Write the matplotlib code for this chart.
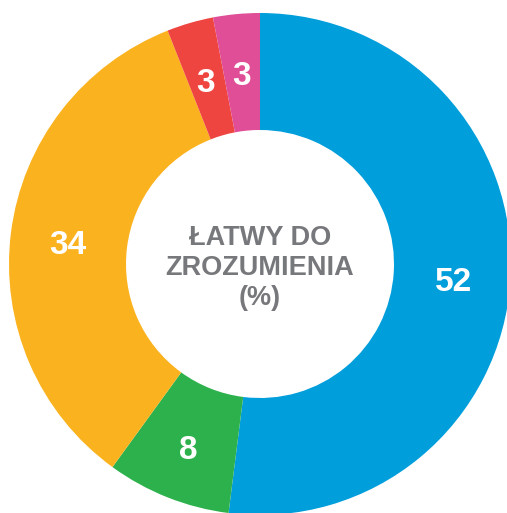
import matplotlib
matplotlib.use('Agg')
import matplotlib.pyplot as plt
import numpy as np

# Data for the donut (clockwise from the top)
labels = ['52', '8', '34', '3', '3']
values = [52, 8, 34, 3, 3]
colors = ['#009edb', '#2db14c', '#fbb21f', '#ef4540', '#df4e96']
center_text = 'ŁATWY DO\nZROZUMIENIA\n(%)'

fig = plt.figure(figsize=(5.07, 5.13), dpi=100)
ax = fig.add_axes([0, 0, 1, 1])

# Pixel-like coordinates: donut centre sits at (260, 264) from the top-left corner
ax.pie(values, colors=colors, startangle=90, counterclock=False,
       radius=251, wedgeprops=dict(width=117, edgecolor='none'),
       frame=True)
ax.set_xlim(-260, 247)
ax.set_ylim(-249, 264)
ax.set_aspect('equal')
ax.axis('off')

# Value labels in the middle of the ring
total = sum(values)
start = 90.0
for lab, v in zip(labels, values):
    mid = start - 360.0 * v / total / 2
    start -= 360.0 * v / total
    r = 194
    ax.text(r * np.cos(np.radians(mid)), r * np.sin(np.radians(mid)) - 6, lab,
            ha='center', va='center', color='white', fontsize=24,
            fontweight='bold', family='Liberation Sans')

ax.text(0, -4, center_text, ha='center', va='center', color='#77787b',
        fontsize=19.5, fontweight='bold', family='Liberation Sans',
        linespacing=1.2)

plt.savefig('out.png', dpi=100)
